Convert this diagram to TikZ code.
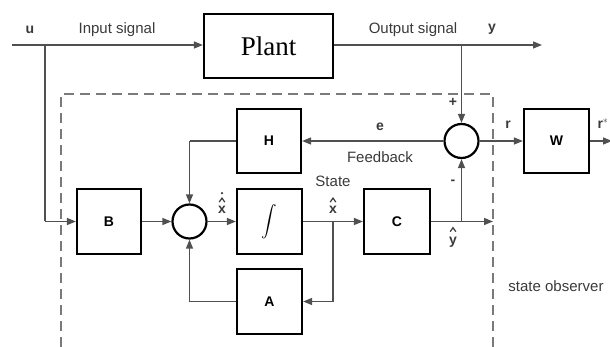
\documentclass[tikz,border=0pt]{standalone}
\usepackage{fontspec}
\setmainfont{Liberation Sans}
\newfontfamily\plantfont{Liberation Serif}
\usetikzlibrary{arrows.meta}
\definecolor{linec}{HTML}{505050}
\definecolor{textc}{HTML}{3A3A3A}
\definecolor{dashc}{HTML}{7A7A7A}
\tikzset{
  blk/.style={draw=black, line width=2.2pt, fill=white, inner sep=0pt},
  sumc/.style={circle, draw=black, line width=2.2pt, minimum size=34pt, inner sep=0pt},
  sig/.style={draw=linec, line width=1.4pt},
  sigarr/.style={sig, -{Triangle[length=9pt,width=7pt]}},
  lbl/.style={text=textc, font=\fontsize{15}{15}\selectfont, inner sep=0pt},
  blbl/.style={text=textc, font=\fontsize{14}{14}\selectfont\bfseries, inner sep=0pt},
  boxtxt/.style={font=\fontsize{14}{14}\selectfont\bfseries},
  obsframe/.style={draw=dashc, line width=1.8pt, dash pattern=on 10pt off 6pt},
  caret/.style={draw=textc, line width=1.2pt},
}
\begin{document}
\begin{tikzpicture}[x=1pt,y=-1pt]
\useasboundingbox (0,0) rectangle (610,347);
% blocks
\node[blk, minimum width=129pt, minimum height=64pt] (plant) at (268.5,46) {\plantfont\fontsize{27}{27}\selectfont Plant};
\node[blk, minimum width=64pt, minimum height=65pt, boxtxt] (B) at (109,221.5) {B};
\node[sumc] (s2) at (189.5,221.5) {};
\node[blk, minimum width=65pt, minimum height=65pt] (I) at (269.5,221.5) {\scalebox{1.55}{$\displaystyle\int$}};
\node[blk, minimum width=64pt, minimum height=64pt, boxtxt] (H) at (269,141) {H};
\node[blk, minimum width=65pt, minimum height=65pt, boxtxt] (A) at (269.5,301.5) {A};
\node[blk, minimum width=66pt, minimum height=65pt, boxtxt] (C) at (397,221.5) {C};
\node[sumc] (s1) at (461.5,141) {};
\node[blk, minimum width=65pt, minimum height=64pt, boxtxt] (W) at (556.5,141) {W};
% observer frame
\draw[obsframe] (61,347) -- (61,94) -- (493,94) -- (493,347);
% coordinates
\coordinate (uin) at (12,45);
\coordinate (uj) at (45,45);
\coordinate (ub) at (45,221.5);
\coordinate (yj) at (461.5,45);
\coordinate (yend) at (542,45);
\coordinate (hc) at (189.5,141);
\coordinate (ac) at (189.5,301.5);
\coordinate (xj) at (333,221.5);
\coordinate (xa) at (333,301.5);
\coordinate (yhj) at (461.5,221.5);
\coordinate (cend) at (493,221.5);
\coordinate (rend) at (612,141);
% signals
\draw[sigarr] (uin) -- (plant.west |- uin);
\draw[sig] (uj) -- (ub);
\draw[sigarr] (ub) -- (B.west);
\draw[sigarr] (plant.east |- yj) -- (yend);
\draw[sigarr] (yj) -- (s1.north);
\draw[sigarr] (s1.west) -- (H.east);
\draw[sig] (H.west) -- (hc);
\draw[sigarr] (hc) -- (s2.north);
\draw[sigarr] (B.east) -- (s2.west);
\draw[sigarr] (s2.east) -- (I.west);
\draw[sigarr] (I.east) -- (C.west);
\draw[sig] (xj) -- (xa);
\draw[sigarr] (xa) -- (A.east);
\draw[sig] (A.west) -- (ac);
\draw[sigarr] (ac) -- (s2.south);
\draw[sigarr] (C.east) -- (cend);
\draw[sigarr] (yhj) -- (s1.south);
\draw[sigarr] (s1.east) -- (W.west);
\draw[sigarr] (W.east) -- (rend);
% labels
\node[blbl] (lu) at (30,30) {u};
\node[lbl] (lin) at (117,30) {Input signal};
\node[lbl] (lout) at (413,30) {Output signal};
\node[blbl] (ly) at (492,29) {y};
\node[blbl] (lp) at (453,102) {+};
\node[blbl] (lm) at (453,182) {-};
\node[blbl] (le) at (380,127) {e};
\node[lbl] (lfb) at (380,157) {Feedback};
\node[blbl] (lr) at (508,125) {r};
\node[blbl] (lrs) at (603,124) {r$^{\ast}$};
\node[lbl] (lst) at (333,181) {State};
\node[lbl] (lso) at (556,286) {state observer};
% hatted state labels
\node[blbl] (lx) at (333,210) {x};
\draw[caret] ([xshift=-2.8pt,yshift=4pt]lx.north) -- ([yshift=8pt]lx.north) -- ([xshift=2.8pt,yshift=4pt]lx.north);
\node[blbl] (lxd) at (222,210) {x};
\draw[caret] ([xshift=-2.8pt,yshift=4pt]lxd.north) -- ([yshift=8pt]lxd.north) -- ([xshift=2.8pt,yshift=4pt]lxd.north);
\fill[textc] ([yshift=13pt]lxd.north) circle (1.3pt);
\node[blbl] (lyy) at (453,242) {y};
\draw[caret] ([xshift=-2.8pt,yshift=5pt]lyy.north) -- ([yshift=9pt]lyy.north) -- ([xshift=2.8pt,yshift=5pt]lyy.north);
\end{tikzpicture}
\end{document}
